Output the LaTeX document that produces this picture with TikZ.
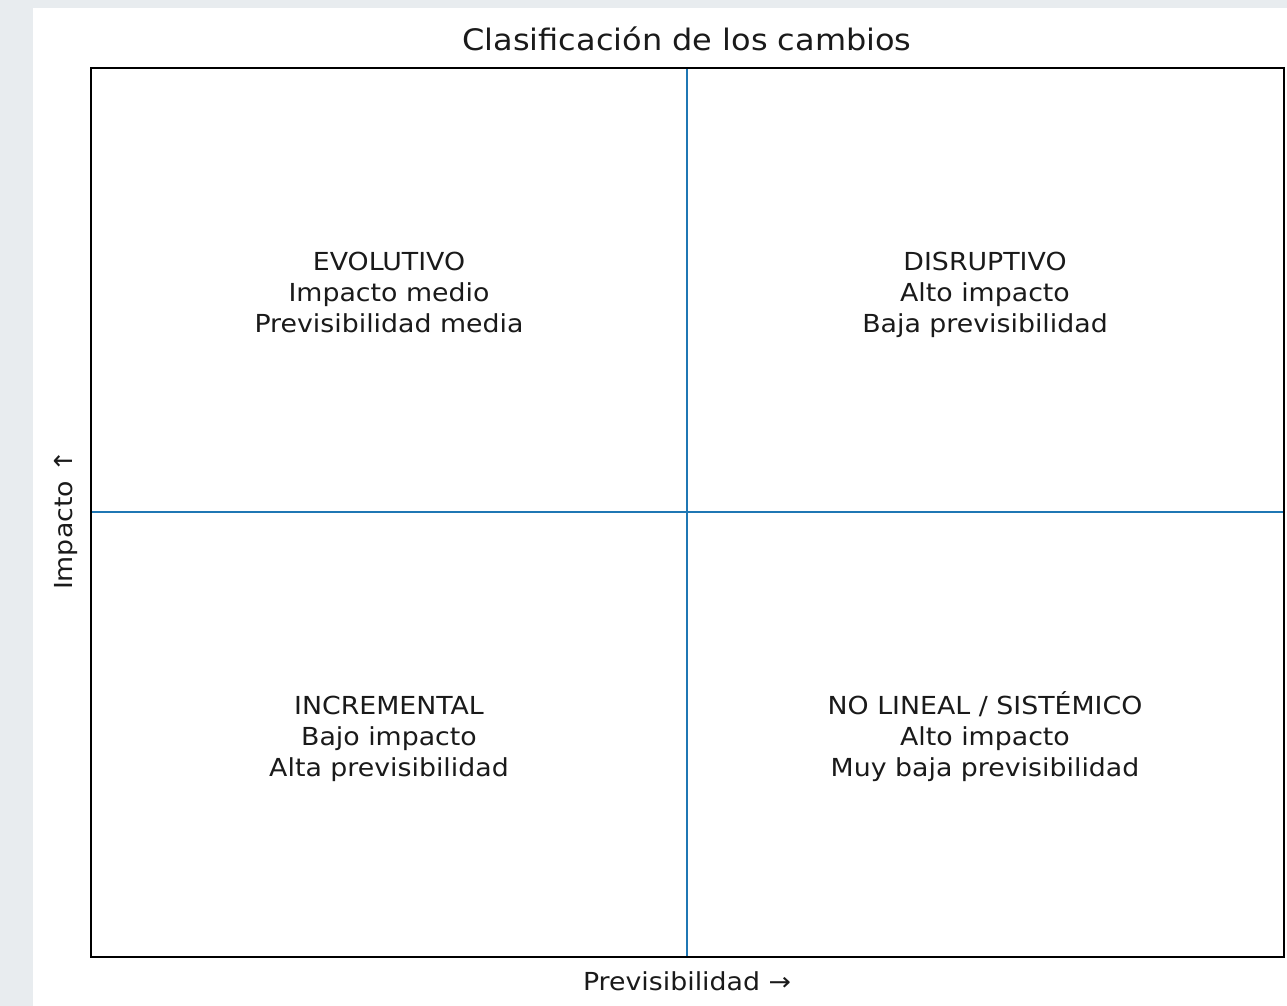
\documentclass[tikz,border=0pt]{standalone}
\usepackage{fontspec}
\setmainfont[FakeStretch=1.08]{DejaVu Sans}
\definecolor{pagegray}{HTML}{E8ECEF}
\definecolor{mplblue}{HTML}{1F77B4}
\definecolor{inkgray}{HTML}{1A1A1A}
\tikzset{
	quadtext/.style={align=center, anchor=base, text=inkgray, font=\fontsize{24.8}{31}\selectfont},
	axislabel/.style={anchor=base, text=inkgray, font=\fontsize{24.8}{31}\selectfont},
}

\begin{document}
\begin{tikzpicture}[x=1pt,y=-1pt]
	\useasboundingbox (0,0) rectangle (1287,1006);
	\fill[pagegray] (0,0) rectangle (1287,1006);
	\fill[white] (33,8) rectangle (1287,1006);
	\coordinate (SW) at (91,957);
	\coordinate (NE) at (1284,68);
	\coordinate (T) at (687,68);
	\coordinate (B) at (687,957);
	\coordinate (L) at (91,512);
	\coordinate (R) at (1284,512);
	\draw[line width=2.8pt, mplblue] (T) -- (B);
	\draw[line width=2.8pt, mplblue] (L) -- (R);
	\draw[line width=2pt, black] (SW) rectangle (NE);
	\node[quadtext] (evol) at (389,332) {EVOLUTIVO\\Impacto medio\\Previsibilidad media};
	\node[quadtext] (disr) at (985,332) {DISRUPTIVO\\Alto impacto\\Baja previsibilidad};
	\node[quadtext] (incr) at (389,776) {INCREMENTAL\\Bajo impacto\\Alta previsibilidad};
	\node[quadtext] (nolin) at (985,776) {NO LINEAL / SISTÉMICO\\Alto impacto\\Muy baja previsibilidad};
	\node[anchor=base, text=inkgray, font=\fontsize{29.6}{35}\selectfont] (title) at (687,51) {Clasificación de los cambios};
	\node[axislabel] (xlab) at (687,990) {Previsibilidad →};
	\node[axislabel, rotate=90] (ylab) at (72,520) {Impacto ↑};
\end{tikzpicture}
\end{document}
